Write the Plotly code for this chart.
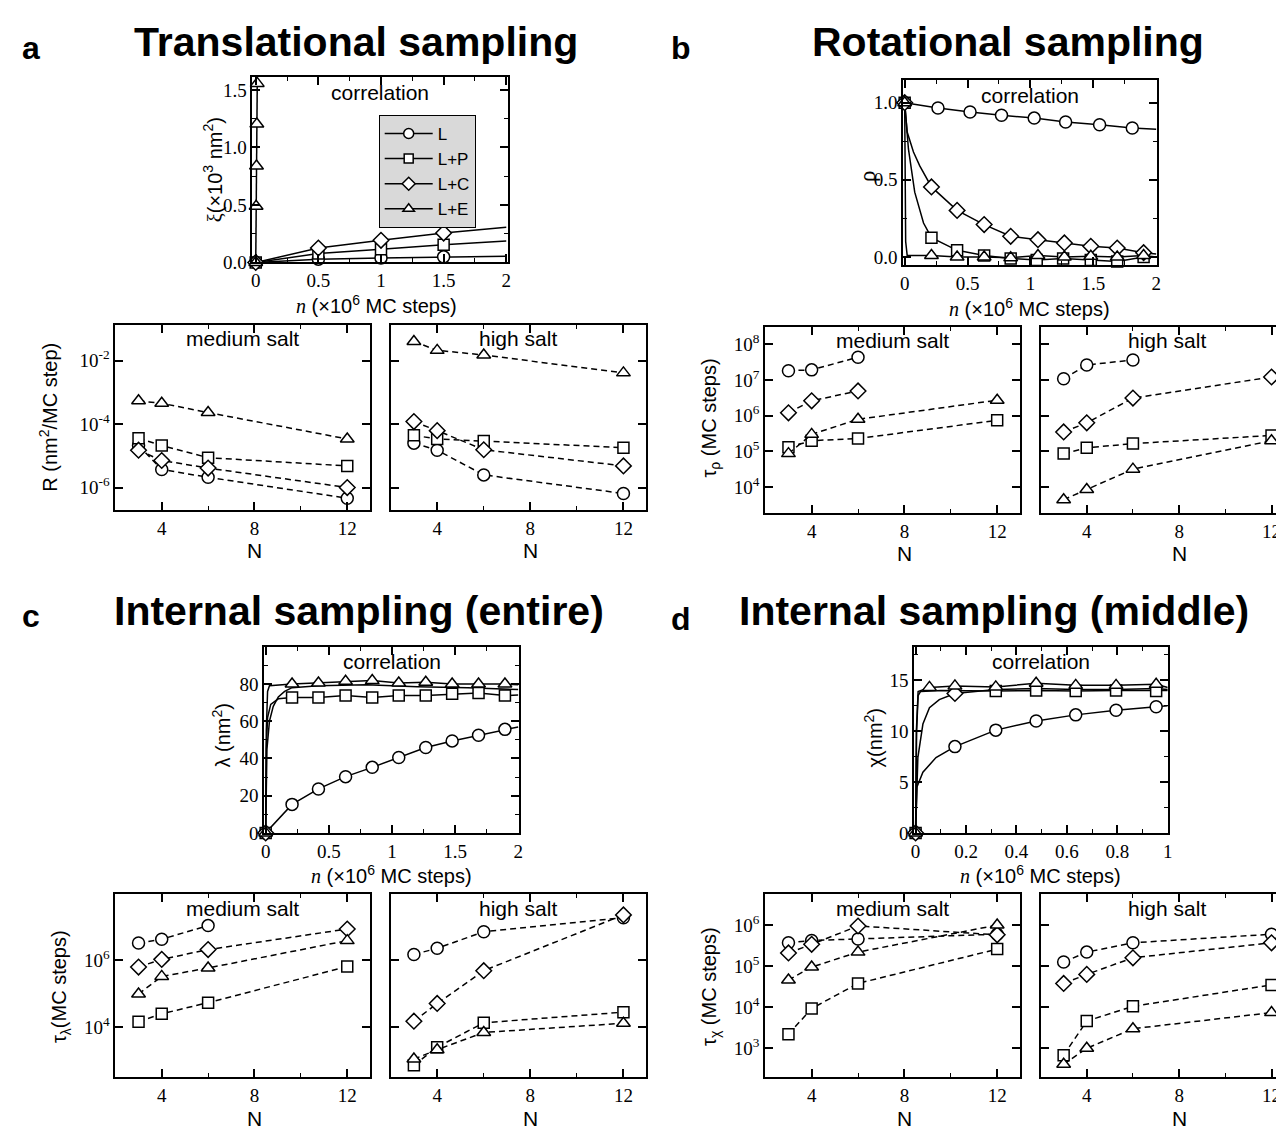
import plotly.graph_objects as go

W, H = 1284, 1128


def px(x):
    return x / W


def py(y):
    return 1 - y / H


SERIES = ["L", "L+P", "L+C", "L+E"]
SYMBOL = {"L": "circle", "L+P": "square", "L+C": "diamond", "L+E": "triangle-up"}

N_VALUES = [3, 4, 6, 12]

# ---------------- a: translational sampling ----------------
a_top_n = {
    "L": [0, 0.5, 1.0, 1.5, 2.0],
    "L+P": [0, 0.5, 1.0, 1.5, 2.0],
    "L+C": [0, 0.5, 1.0, 1.5, 2.0],
    "L+E": [0, 0.003, 0.006, 0.009, 0.012, 0.0125],
}
a_top_y = {
    "L": [0.0, 0.029, 0.040, 0.049, 0.055],
    "L+P": [0.0, 0.078, 0.115, 0.155, 0.187],
    "L+C": [0.0, 0.126, 0.193, 0.256, 0.307],
    "L+E": [0.0, 0.489, 0.839, 1.204, 1.557, 1.61],
}
a_top_marks = {"L": [0, 1, 2, 3], "L+P": [0, 1, 2, 3], "L+C": [0, 1, 2, 3], "L+E": [0, 1, 2, 3, 4]}

a_med = {
    "L": [2.1e-5, 3.7e-6, 2.1e-6, 4.6e-7],
    "L+P": [3.6e-5, 2.1e-5, 8.7e-6, 4.8e-6],
    "L+C": [1.5e-5, 7.1e-6, 4.1e-6, 1.0e-6],
    "L+E": [5.4e-4, 4.5e-4, 2.3e-4, 3.4e-5],
}
a_high = {
    "L": [2.5e-5, 1.5e-5, 2.5e-6, 6.5e-7],
    "L+P": [4.4e-5, 3.4e-5, 2.9e-5, 1.8e-5],
    "L+C": [1.2e-4, 6.2e-5, 1.55e-5, 4.8e-6],
    "L+E": [4.0e-2, 2.1e-2, 1.5e-2, 4.1e-3],
}

# ---------------- b: rotational sampling ----------------
b_top_n = {
    "L": [0, 0.265, 0.52, 0.77, 1.03, 1.28, 1.55, 1.81, 2.0],
    "L+P": [0, 0.03, 0.08, 0.15, 0.213, 0.417, 0.632, 0.843, 1.05, 1.26, 1.48, 1.69, 1.90, 2.0],
    "L+C": [0, 0.02, 0.07, 0.12, 0.213, 0.417, 0.632, 0.843, 1.06, 1.27, 1.48, 1.69, 1.90, 2.0],
    "L+E": [0, 0.008, 0.02, 0.213, 0.417, 0.632, 0.843, 1.06, 1.27, 1.48, 1.69, 1.90, 2.0],
}
b_top_y = {
    "L": [1.0, 0.965, 0.94, 0.918, 0.90, 0.875, 0.857, 0.836, 0.827],
    "L+P": [1.0, 0.70, 0.42, 0.22, 0.125, 0.043, 0.01, -0.01, -0.02, -0.01, -0.02, -0.03, 0.0, 0.0],
    "L+C": [1.0, 0.81, 0.68, 0.59, 0.454, 0.302, 0.21, 0.134, 0.112, 0.091, 0.069, 0.058, 0.028, 0.02],
    "L+E": [1.0, 0.1, 0.01, 0.01, 0.0, 0.0, -0.005, 0.01, 0.0, 0.005, 0.0, 0.01, 0.0],
}
b_top_marks = {
    "L": [0, 1, 2, 3, 4, 5, 6, 7],
    "L+P": [0, 4, 5, 6, 7, 8, 9, 10, 11, 12],
    "L+C": [0, 4, 5, 6, 7, 8, 9, 10, 11, 12],
    "L+E": [0, 3, 4, 5, 6, 7, 8, 9, 10, 11],
}

b_med = {
    "L": [1.8e7, 1.9e7, 4.3e7, None],
    "L+P": [1.3e5, 2.0e5, 2.3e5, 7.4e5],
    "L+C": [1.2e6, 2.6e6, 4.9e6, None],
    "L+E": [8.7e4, 3.0e5, 7.9e5, 2.7e6],
}
b_high = {
    "L": [1.07e7, 2.6e7, 3.6e7, None],
    "L+P": [8.7e4, 1.26e5, 1.66e5, 2.8e5],
    "L+C": [3.5e5, 6.3e5, 3.1e6, 1.2e7],
    "L+E": [4.5e3, 8.7e3, 3.2e4, 2.0e5],
}

# ---------------- c: internal sampling (entire) ----------------
c_top_n = {
    "L": [0, 0.209, 0.418, 0.633, 0.844, 1.054, 1.268, 1.477, 1.686, 1.895, 2.0],
    "L+P": [0, 0.005, 0.015, 0.04, 0.1, 0.209, 0.418, 0.633, 0.844, 1.054, 1.268, 1.477, 1.686, 1.895, 2.0],
    "L+C": [0, 0.01, 0.03, 0.06, 0.1, 0.15, 0.209, 0.418, 0.8, 1.2, 1.6, 2.0],
    "L+E": [0, 0.005, 0.015, 0.03, 0.209, 0.418, 0.633, 0.844, 1.054, 1.268, 1.477, 1.686, 1.895, 2.0],
}
c_top_y = {
    "L": [0, 15.3, 23.6, 30.2, 35.2, 40.5, 45.9, 49.4, 52.4, 55.6, 56.9],
    "L+P": [0, 45, 62, 69, 72, 72.7, 72.7, 73.8, 72.7, 73.8, 73.8, 74.7, 75.2, 73.8, 74],
    "L+C": [0, 45, 60, 68, 73, 76, 78, 79, 79.5, 78.5, 78, 77],
    "L+E": [0, 55, 76, 79, 80, 80.5, 81.4, 81.8, 80.5, 80.9, 80, 80, 80, 79.5],
}
c_top_marks = {
    "L": [0, 1, 2, 3, 4, 5, 6, 7, 8, 9],
    "L+P": [0, 5, 6, 7, 8, 9, 10, 11, 12, 13],
    "L+C": [0],
    "L+E": [0, 4, 5, 6, 7, 8, 9, 10, 11, 12],
}

c_med = {
    "L": [3.3e6, 4.3e6, 1.1e7, None],
    "L+P": [1.45e4, 2.5e4, 5.4e4, 6.5e5],
    "L+C": [6.3e5, 1.07e6, 2.1e6, 8.7e6],
    "L+E": [9.8e4, 3.3e5, 5.9e5, 3.9e6],
}
c_high = {
    "L": [1.5e6, 2.3e6, 7.2e6, 1.9e7],
    "L+P": [720, 2.5e3, 1.35e4, 2.8e4],
    "L+C": [1.5e4, 5.1e4, 4.9e5, 2.3e7],
    "L+E": [1.1e3, 2.1e3, 6.9e3, 1.3e4],
}

# ---------------- d: internal sampling (middle) ----------------
d_top_n = {
    "L": [0, 0.005, 0.029, 0.081, 0.156, 0.318, 0.478, 0.635, 0.795, 0.954, 1.0],
    "L+P": [0, 0.004, 0.01, 0.02, 0.1, 0.318, 0.478, 0.635, 0.795, 0.954, 1.0],
    "L+C": [0, 0.009, 0.029, 0.055, 0.094, 0.156, 0.318, 0.478, 0.635, 0.795, 0.954, 1.0],
    "L+E": [0, 0.003, 0.01, 0.055, 0.156, 0.318, 0.478, 0.635, 0.795, 0.954, 1.0],
}
d_top_y = {
    "L": [0, 4.5, 5.97, 7.4, 8.48, 10.1, 11.0, 11.6, 12.06, 12.39, 12.5],
    "L+P": [0, 10, 13.5, 13.9, 14.0, 13.95, 14.0, 13.95, 14.0, 13.95, 14.0],
    "L+C": [0, 7.4, 10.7, 12.3, 13.1, 13.7, 14.1, 14.2, 14.1, 14.1, 14.2, 14.1],
    "L+E": [0, 10, 13.9, 14.3, 14.45, 14.35, 14.7, 14.5, 14.5, 14.6, 14.3],
}
d_top_marks = {
    "L": [0, 4, 5, 6, 7, 8, 9],
    "L+P": [0, 5, 6, 7, 8, 9],
    "L+C": [0, 5],
    "L+E": [0, 3, 4, 5, 6, 7, 8, 9],
}

d_med = {
    "L": [3.7e5, 4.2e5, 4.6e5, 6.0e5],
    "L+P": [2.2e3, 9.3e3, 3.8e4, 2.6e5],
    "L+C": [2.1e5, 3.4e5, 9.5e5, 5.8e5],
    "L+E": [4.6e4, 9.5e4, 2.2e5, 1.0e6],
}
d_high = {
    "L": [1.26e5, 2.2e5, 3.7e5, 6.0e5],
    "L+P": [680, 4.6e3, 1.05e4, 3.5e4],
    "L+C": [3.8e4, 6.3e4, 1.6e5, 3.7e5],
    "L+E": [410, 1.0e3, 3.0e3, 7.4e3],
}

# ------------------------------------------------------------
SANS = "Liberation Sans"
SERIF = "Liberation Serif"
MSIZE = 12

fig = go.Figure()


def axname(i):
    return ("x" if i == 1 else f"x{i}"), ("y" if i == 1 else f"y{i}")


def mk(s, size=MSIZE):
    sz = size - 1 if s == "L+P" else size
    return dict(symbol=SYMBOL[s], size=sz, color="white",
                line=dict(color="black", width=1.5))


def add_top(i, n, y, marks, legend=False):
    xa, ya = axname(i)
    for s in SERIES:
        fig.add_trace(go.Scatter(x=n[s], y=y[s], mode="lines",
                                 line=dict(color="black", width=1.5),
                                 xaxis=xa, yaxis=ya, showlegend=False,
                                 cliponaxis=False, hoverinfo="skip"))
    for s in SERIES:
        fig.add_trace(go.Scatter(x=[n[s][k] for k in marks[s]],
                                 y=[y[s][k] for k in marks[s]],
                                 mode="markers", marker=mk(s),
                                 xaxis=xa, yaxis=ya, showlegend=False,
                                 cliponaxis=False, hoverinfo="skip"))
    if legend:
        for s in SERIES:
            fig.add_trace(go.Scatter(x=[None], y=[None], mode="lines+markers", name=s,
                                     line=dict(color="black", width=1.5),
                                     marker=mk(s, 10), xaxis=xa, yaxis=ya,
                                     showlegend=True))


def add_bottom(i, data):
    xa, ya = axname(i)
    for s in SERIES:
        fig.add_trace(go.Scatter(x=N_VALUES, y=data[s], mode="lines+markers",
                                 line=dict(color="black", width=1.5, dash="6px,4px"),
                                 marker=mk(s), xaxis=xa, yaxis=ya,
                                 showlegend=False, cliponaxis=False,
                                 connectgaps=False, hoverinfo="skip"))


add_top(1, a_top_n, a_top_y, a_top_marks, legend=True)
add_bottom(2, a_med)
add_bottom(3, a_high)
add_top(4, b_top_n, b_top_y, b_top_marks)
add_bottom(5, b_med)
add_bottom(6, b_high)
add_top(7, c_top_n, c_top_y, c_top_marks)
add_bottom(8, c_med)
add_bottom(9, c_high)
add_top(10, d_top_n, d_top_y, d_top_marks)
add_bottom(11, d_med)
add_bottom(12, d_high)

# ------------------------------------------------------------
def base_axis():
    return dict(showline=True, linecolor="black", linewidth=2, mirror="ticks",
                ticks="inside", ticklen=8, tickwidth=1.5, tickcolor="black",
                showgrid=False, zeroline=False,
                tickfont=dict(family=SERIF, size=19, color="black"))


def minor(**kw):
    d = dict(ticks="inside", ticklen=4, tickwidth=1.2, tickcolor="black", showgrid=False)
    d.update(kw)
    return d


# pixel boxes (x0, x1, y0, y1)
boxes = {
    1: (243, 500, 70, 257),
    2: (105, 361, 320, 507),
    3: (382, 639, 320, 507),
    4: (898, 1153, 73, 260),
    5: (759, 1015, 322, 510),
    6: (1036, 1284, 322, 510),
    7: (255, 511, 645, 833),
    8: (105, 361, 895, 1080),
    9: (382, 639, 895, 1080),
    10: (909, 1164, 645, 833),
    11: (759, 1015, 895, 1080),
    12: (1036, 1284, 895, 1080),
}

n_ticks2 = dict(tickvals=[0, 0.5, 1, 1.5, 2], ticktext=["0", "0.5", "1", "1.5", "2"],
                minor=minor(tickvals=[0.25, 0.75, 1.25, 1.75]))
N_ticks = dict(tickvals=[4, 8, 12], ticktext=["4", "8", "12"], minor=minor(tickvals=[2, 6, 10]))


def logticks(exps):
    return dict(type="log", tickvals=[10.0 ** e for e in exps],
                ticktext=[f"10<sup>{e}</sup>" for e in exps])


xspec = {
    1: dict(range=[-0.026, 2.013], **n_ticks2),
    4: dict(range=[-0.01, 2.005], **n_ticks2),
    7: dict(range=[-0.01, 2.005], **n_ticks2),
    10: dict(range=[-0.005, 1.0], tickvals=[0, 0.2, 0.4, 0.6, 0.8, 1.0],
             ticktext=["0", "0.2", "0.4", "0.6", "0.8", "1"],
             minor=minor(tickvals=[0.1, 0.3, 0.5, 0.7, 0.9])),
}
for i in (2, 3, 5, 8, 9, 11):
    xspec[i] = dict(range=[2, 12.97], **N_ticks)
for i in (6, 12):
    xspec[i] = dict(range=[2, 12.67], **N_ticks)

yspec = {
    1: dict(range=[0, 1.61], tickvals=[0, 0.5, 1.0, 1.5], ticktext=["0.0", "0.5", "1.0", "1.5"],
            minor=minor(tickvals=[0.25, 0.75, 1.25])),
    4: dict(range=[-0.055, 1.145], tickvals=[0, 0.5, 1.0], ticktext=["0.0", "0.5", "1.0"],
            minor=minor(tickvals=[0.25, 0.75])),
    7: dict(range=[0, 100], tickvals=[0, 20, 40, 60, 80], ticktext=["0", "20", "40", "60", "80"],
            minor=minor(tickvals=[10, 30, 50, 70, 90])),
    10: dict(range=[0, 18.3], tickvals=[0, 5, 10, 15], ticktext=["0", "5", "10", "15"],
             minor=minor(tickvals=[2.5, 7.5, 12.5, 17.5])),
    2: dict(range=[-6.71, -0.875], **logticks([-6, -4, -2])),
    3: dict(range=[-6.71, -0.875], showticklabels=False, **logticks([-6, -4, -2])),
    5: dict(range=[3.28, 8.48], **logticks([4, 5, 6, 7, 8])),
    6: dict(range=[3.28, 8.48], showticklabels=False, **logticks([4, 5, 6, 7, 8])),
    8: dict(range=[2.49, 7.98], **logticks([4, 6])),
    9: dict(range=[2.49, 7.98], showticklabels=False, **logticks([4, 6])),
    11: dict(range=[2.29, 6.75], **logticks([3, 4, 5, 6])),
    12: dict(range=[2.29, 6.75], showticklabels=False, **logticks([3, 4, 5, 6])),
}

layout_axes = {}
for i, (x0, x1, y0, y1) in boxes.items():
    xk = "xaxis" if i == 1 else f"xaxis{i}"
    yk = "yaxis" if i == 1 else f"yaxis{i}"
    xa, ya = axname(i)
    xd = base_axis()
    xd.update(domain=[px(x0), px(x1)], anchor=ya)
    xd.update(xspec[i])
    yd = base_axis()
    yd.update(domain=[py(y1), py(y0)], anchor=xa)
    yd.update(yspec[i])
    layout_axes[xk] = xd
    layout_axes[yk] = yd

fig.update_layout(**layout_axes)

# ------------------------------------------------------------
ann = []


def text(x, y, t, size, family=SANS, bold=False, angle=0, xanchor="center"):
    ann.append(dict(x=px(x), y=py(y), xref="paper", yref="paper", text=(f"<b>{t}</b>" if bold else t),
                    showarrow=False, textangle=angle, xanchor=xanchor, yanchor="middle",
                    font=dict(family=family, size=size, color="black")))


# panel letters and titles
text(20, 40, "a", 32, bold=True)
text(347, 34, "Translational sampling", 41, bold=True)
text(674, 40, "b", 32, bold=True)
text(1003, 34, "Rotational sampling", 41, bold=True)
text(20, 614, "c", 32, bold=True)
text(350, 609, "Internal sampling (entire)", 41, bold=True)
text(674, 617, "d", 32, bold=True)
text(989, 609, "Internal sampling (middle)", 41, bold=True)

# in-plot labels
for i in (1, 4, 7, 10):
    x0, x1, y0, y1 = boxes[i]
    text((x0 + x1) / 2, y0 + 15, "correlation", 21)
for i in (2, 5, 8, 11):
    x0, x1, y0, y1 = boxes[i]
    text((x0 + x1) / 2, y0 + 14, "medium salt", 21)
for i in (3, 6, 9, 12):
    x0, x1, y0, y1 = boxes[i]
    cx = (x0 + x1) / 2 if i in (3, 9) else (x0 + 1290) / 2
    text(cx, y0 + 14, "high salt", 21)

ntitle = '<span style="font-family:Liberation Serif"><i>n</i></span> (×10<sup>6</sup> MC steps)'
# x titles of the correlation plots
text(368, 299, ntitle, 20)
text(1025, 302, ntitle, 20)
text(383, 875, ntitle, 20)
text(1036, 875, ntitle, 20)
# N titles
for i in (2, 3, 5, 6, 8, 9, 11, 12):
    x0, x1, y0, y1 = boxes[i]
    xs = xspec[i]["range"]
    cx = x0 + (8 - xs[0]) / (xs[1] - xs[0]) * (x1 - x0)
    text(cx, y1 + 41, "N", 21)

# y titles
text(203, 163, '<span style="font-family:Liberation Serif">ξ</span>(×10<sup>3</sup> nm<sup>2</sup>)', 20, angle=-90)
text(862, 170, '<span style="font-family:Liberation Serif">ρ</span>', 23, angle=-90)
text(212, 735, 'λ (nm<sup>2</sup>)', 20, angle=-90)
text(868, 737, 'χ(nm<sup>2</sup>)', 20, angle=-90)
text(38, 413, 'R (nm<sup>2</sup>/MC step)', 20, angle=-90)
text(704, 414, 'τ<sub>ρ</sub> (MC steps)', 20, angle=-90)
text(50, 988, 'τ<sub>λ</sub>(MC steps)', 20, angle=-90)
text(704, 988, 'τ<sub>χ</sub> (MC steps)', 20, angle=-90)

fig.update_layout(
    annotations=ann,
    width=W, height=H, autosize=False,
    margin=dict(l=0, r=0, t=0, b=0),
    paper_bgcolor="white", plot_bgcolor="white",
    showlegend=True,
    legend=dict(x=px(370), y=py(108), xanchor="left", yanchor="top",
                bgcolor="#d9d9d9", bordercolor="black", borderwidth=1,
                font=dict(family=SANS, size=17, color="black"),
                tracegroupgap=0, itemwidth=48),
)

fig.write_html("out.html")
